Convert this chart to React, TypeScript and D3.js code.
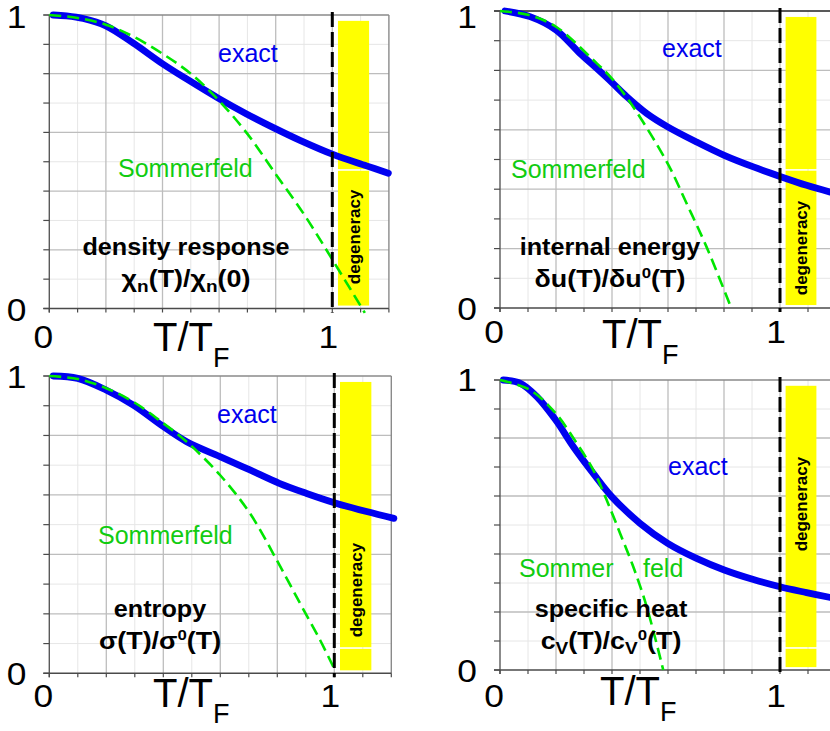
import React from "react";
import * as d3 from "d3";

type Pt = [number, number];

// density response χn(T)/χn(0)
const densityExact: Pt[] = [[0.014, 1.0], [0.06, 0.997], [0.12, 0.988], [0.2, 0.963], [0.297, 0.904], [0.4, 0.834], [0.485, 0.782], [0.598, 0.716], [0.697, 0.663], [0.799, 0.613], [0.886, 0.573], [1.0, 0.526], [1.121, 0.486], [1.198, 0.461]];
const densitySommerfeld: Pt[] = [[0, 1], [0.1, 0.99], [0.2, 0.967], [0.3, 0.925], [0.4, 0.868], [0.5, 0.8], [0.6, 0.708], [0.7, 0.595], [0.8, 0.458], [0.9, 0.321], [1.0, 0.167], [1.115, -0.015]];

// internal energy δu(T)/δu⁰(T)
const energyExact: Pt[] = [[0.018, 1.0], [0.107, 0.981], [0.2, 0.936], [0.286, 0.857], [0.345, 0.807], [0.399, 0.76], [0.452, 0.712], [0.524, 0.655], [0.599, 0.61], [0.702, 0.559], [0.801, 0.514], [0.905, 0.475], [1.0, 0.443], [1.095, 0.413], [1.18, 0.39]];
const energySommerfeld: Pt[] = [[0, 1], [0.1, 0.987], [0.2, 0.947], [0.333, 0.835], [0.399, 0.773], [0.476, 0.677], [0.599, 0.486], [0.667, 0.351], [0.738, 0.205], [0.827, -0.003]];

// entropy σ(T)/σ⁰(T)
const entropyExact: Pt[] = [[0.014, 1.0], [0.1, 0.992], [0.199, 0.953], [0.295, 0.902], [0.4, 0.83], [0.482, 0.779], [0.599, 0.729], [0.704, 0.684], [0.807, 0.639], [0.903, 0.605], [1.0, 0.574], [1.113, 0.544], [1.209, 0.521]];
const entropySommerfeld: Pt[] = [[0, 1], [0.1, 0.99], [0.2, 0.959], [0.3, 0.91], [0.4, 0.841], [0.482, 0.779], [0.599, 0.667], [0.704, 0.538], [0.798, 0.381], [0.88, 0.235], [0.95, 0.112], [1.002, 0.011]];

// specific heat cV(T)/cV⁰(T)
const heatExact: Pt[] = [[0.012, 1.0], [0.071, 0.989], [0.131, 0.943], [0.199, 0.862], [0.262, 0.77], [0.333, 0.678], [0.399, 0.598], [0.5, 0.506], [0.599, 0.437], [0.702, 0.385], [0.801, 0.345], [0.905, 0.312], [1.0, 0.287], [1.095, 0.267], [1.18, 0.25]];
const heatSommerfeld: Pt[] = [[0, 1], [0.107, 0.966], [0.199, 0.885], [0.274, 0.782], [0.333, 0.69], [0.381, 0.586], [0.429, 0.471], [0.476, 0.356], [0.524, 0.218], [0.583, 0.0]];

const yTickLabels = ["0", "1"];
const xTickLabels = ["0", "1"];
const degeneracyBar = { from: 1.02, to: 1.13, top: 0.98, bottom: 0.01 };

const FONT = "'Liberation Sans', Arial, Helvetica, sans-serif";

type Layout = {
  left: number; one: number; top: number; bottom: number;
  topColor: string;
  gapY: number; degY: number;
  yOneBase: number;
  xLabelBase: number; axisTitleBase: number; axisTitleX: number;
  exact: [number, number];
  sommer: [number, number];
  sommerSplit?: number;
  title: [number, number];
};

type TxtProps = {
  x: number; y: number; size: number; anchor?: "start" | "middle" | "end";
  stretch?: number; bold?: boolean; fill?: string; children: React.ReactNode;
};

// Text with an optional horizontal stretch around its anchor point
function Txt({ x, y, size, anchor = "start", stretch = 1, bold = false, fill = "#000", children }: TxtProps) {
  return (
    <text transform={`translate(${x},${y}) scale(${stretch},1)`} textAnchor={anchor}
      fontFamily={FONT} fontSize={size} fontWeight={bold ? "bold" : "normal"} fill={fill}>
      {children}
    </text>
  );
}

type PanelProps = {
  layout: Layout;
  exact: Pt[];
  sommerfeld: Pt[];
  titleLine1: string;
  titleLine2: React.ReactNode;
};

function Panel({ layout: L, exact, sommerfeld, titleLine1, titleLine2 }: PanelProps) {
  const x = d3.scaleLinear().domain([0, 1]).range([L.left, L.one]);
  const y = d3.scaleLinear().domain([0, 1]).range([L.bottom, L.top]);
  const xMax = 1.2;
  const minor = d3.range(0, 13).map((i) => i / 10);
  const minorY = d3.range(0, 11).map((i) => i / 10);
  const line = d3.line<Pt>().x((d) => x(d[0])).y((d) => y(d[1])).curve(d3.curveCatmullRom.alpha(0.5));
  const bx0 = x(degeneracyBar.from);
  const bx1 = x(degeneracyBar.to);
  const gap = y(L.gapY);
  const tickSize = 31;
  const tickStretch = 1.14;
  return (
    <g>
      {/* grid */}
      {minor.filter((_, i) => i % 2 === 1).map((v) => (
        <line key={"mx" + v} x1={x(v)} x2={x(v)} y1={y(0)} y2={y(1)} stroke="#e6e6e6" strokeWidth={1} />
      ))}
      {minorY.filter((_, i) => i % 2 === 1).map((v) => (
        <line key={"my" + v} x1={x(0)} x2={x(xMax)} y1={y(v)} y2={y(v)} stroke="#e6e6e6" strokeWidth={1} />
      ))}
      {minor.filter((_, i) => i % 2 === 0 && i > 0 && i < 12).map((v) => (
        <line key={"Mx" + v} x1={x(v)} x2={x(v)} y1={y(0)} y2={y(1)} stroke="#bdbdbd" strokeWidth={1.3} />
      ))}
      {minorY.filter((_, i) => i % 2 === 0 && i > 0 && i < 10).map((v) => (
        <line key={"My" + v} x1={x(0)} x2={x(xMax)} y1={y(v)} y2={y(v)} stroke="#bdbdbd" strokeWidth={1.3} />
      ))}
      {/* frame */}
      <line x1={x(0) - 6} x2={x(xMax)} y1={y(1)} y2={y(1)} stroke={L.topColor} strokeWidth={1.4} />
      <line x1={x(xMax)} x2={x(xMax)} y1={y(1)} y2={y(0)} stroke="#8a8a8a" strokeWidth={1.4} />
      <line x1={x(0)} x2={x(0)} y1={y(1)} y2={y(0) + 4} stroke="#5a5a5a" strokeWidth={1.4} />
      <line x1={x(0) - 6} x2={x(xMax)} y1={y(0)} y2={y(0)} stroke="#4a4a4a" strokeWidth={1.4} />
      {minorY.map((v) => (
        <line key={"ty" + v} x1={x(0) - 6} x2={x(0)} y1={y(v)} y2={y(v)} stroke="#4a4a4a" strokeWidth={1.2} />
      ))}
      {minor.map((v) => (
        <line key={"tx" + v} x1={x(v)} x2={x(v)} y1={y(0)} y2={y(0) + 4} stroke="#4a4a4a" strokeWidth={1.2} />
      ))}
      {/* degeneracy bar */}
      <rect x={bx0} width={bx1 - bx0} y={y(degeneracyBar.top)} height={gap - 0.8 - y(degeneracyBar.top)} fill="#ffff00" />
      <rect x={bx0} width={bx1 - bx0} y={gap + 0.8} height={y(degeneracyBar.bottom) - gap - 0.8} fill="#ffff00" />
      <text transform={`translate(${(bx0 + bx1) / 2 + 6},${y(L.degY)}) rotate(-90)`} textAnchor="middle"
        fontFamily={FONT} fontWeight="bold" fontSize={17} fill="#000">degeneracy</text>
      {/* curves */}
      <path d={line(exact) ?? ""} fill="none" stroke="#0000f0" strokeWidth={6.8} strokeLinecap="round" />
      <path d={line(sommerfeld) ?? ""} fill="none" stroke="#00e600" strokeWidth={2.6} strokeDasharray="12 6" />
      <line x1={x(1)} x2={x(1)} y1={y(1) - 3} y2={y(0) + 4} stroke="#000" strokeWidth={3} strokeDasharray="15 5" />
      {/* tick labels */}
      <Txt x={x(0) - 23} y={L.yOneBase} size={tickSize} stretch={tickStretch} anchor="end">{yTickLabels[1]}</Txt>
      <Txt x={x(0) - 23} y={y(0) + 12} size={tickSize} stretch={tickStretch} anchor="end">{yTickLabels[0]}</Txt>
      <Txt x={x(0) - 6} y={L.xLabelBase} size={tickSize} stretch={tickStretch} anchor="middle">{xTickLabels[0]}</Txt>
      <Txt x={x(1) - 4} y={L.xLabelBase} size={tickSize} stretch={tickStretch} anchor="middle">{xTickLabels[1]}</Txt>
      <text x={L.axisTitleX} y={L.axisTitleBase} fontFamily={FONT} fontSize={40}>
        T/T<tspan fontSize={27} dy={16}>F</tspan>
      </text>
      {/* curve labels */}
      <Txt x={L.exact[0]} y={L.exact[1]} size={25} fill="#0000ee">exact</Txt>
      {L.sommerSplit ? (
        <>
          <Txt x={L.sommer[0]} y={L.sommer[1]} size={25} fill="#11cc11">Sommer</Txt>
          <Txt x={L.sommerSplit} y={L.sommer[1]} size={25} fill="#11cc11">feld</Txt>
        </>
      ) : (
        <Txt x={L.sommer[0]} y={L.sommer[1]} size={25} fill="#11cc11">Sommerfeld</Txt>
      )}
      <Txt x={L.title[0]} y={L.title[1]} anchor="middle" size={24} stretch={1.05} bold>{titleLine1}</Txt>
      <Txt x={L.title[0]} y={L.title[1] + 32} anchor="middle" size={24} stretch={1.12} bold>{titleLine2}</Txt>
    </g>
  );
}

const layouts: Layout[] = [
  { left: 49.3, one: 332.3, top: 15, bottom: 308.5, topColor: "#8a8a8a", gapY: 0.472, degY: 0.244, yOneBase: 28, xLabelBase: 348, axisTitleBase: 351, axisTitleX: 153, exact: [218, 62], sommer: [118, 177], title: [186, 255] },
  { left: 500, one: 780, top: 11, bottom: 308, topColor: "#222", gapY: 0.465, degY: 0.202, yOneBase: 28, xLabelBase: 343, axisTitleBase: 348, axisTitleX: 602, exact: [662, 57], sommer: [511, 178], title: [610, 255] },
  { left: 49.3, one: 334.3, top: 376, bottom: 673.3, topColor: "#8a8a8a", gapY: 0.085, degY: 0.28, yOneBase: 388, xLabelBase: 707, axisTitleBase: 707, axisTitleX: 153, exact: [217, 423], sommer: [98, 544], title: [160, 617] },
  { left: 500, one: 780, top: 380, bottom: 670, topColor: "#8a8a8a", gapY: 0.076, degY: 0.572, yOneBase: 391, xLabelBase: 707, axisTitleBase: 705, axisTitleX: 600, exact: [668, 475], sommer: [519, 577], sommerSplit: 643, title: [611, 617] },
];

export default function App() {
  return (
    <svg width={830} height={731} style={{ position: "absolute", left: 0, top: 0, background: "#fff" }}>
      <rect width={830} height={731} fill="#fff" />
      <Panel layout={layouts[0]} exact={densityExact} sommerfeld={densitySommerfeld}
        titleLine1="density response"
        titleLine2={<>χ<tspan fontSize={17} dy={5}>n</tspan><tspan dy={-5}>(T)/χ</tspan><tspan fontSize={17} dy={5}>n</tspan><tspan dy={-5}>(0)</tspan></>} />
      <Panel layout={layouts[1]} exact={energyExact} sommerfeld={energySommerfeld}
        titleLine1="internal energy"
        titleLine2={<>δu(T)/δu<tspan fontSize={15} dy={-9}>0</tspan><tspan dy={9}>(T)</tspan></>} />
      <Panel layout={layouts[2]} exact={entropyExact} sommerfeld={entropySommerfeld}
        titleLine1="entropy"
        titleLine2={<>σ(T)/σ<tspan fontSize={15} dy={-9}>0</tspan><tspan dy={9}>(T)</tspan></>} />
      <Panel layout={layouts[3]} exact={heatExact} sommerfeld={heatSommerfeld}
        titleLine1="specific heat"
        titleLine2={<>c<tspan fontSize={17} dy={5}>V</tspan><tspan dy={-5}>(T)/c</tspan><tspan fontSize={17} dy={5}>V</tspan><tspan fontSize={15} dy={-14}>0</tspan><tspan dy={9}>(T)</tspan></>} />
    </svg>
  );
}
